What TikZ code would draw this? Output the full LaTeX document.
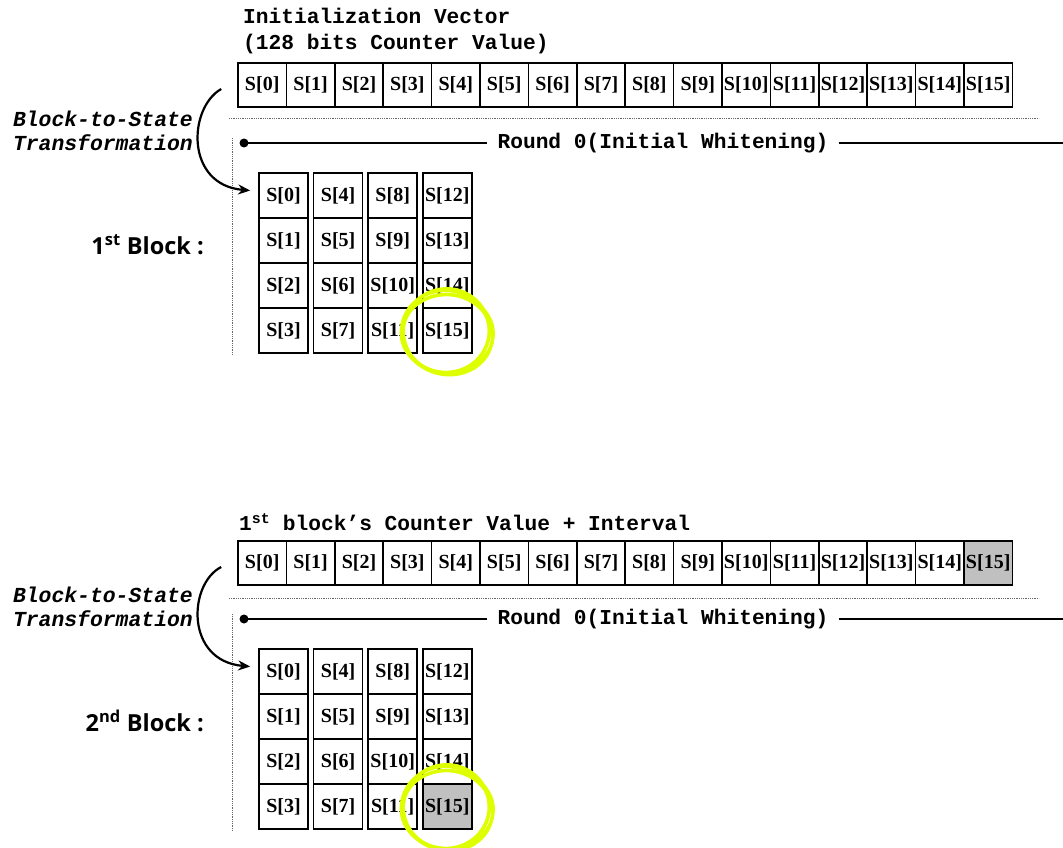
\documentclass[tikz,border=0pt]{standalone}
\usepackage{fontspec}
\usepackage{tikz}
\usetikzlibrary{arrows.meta,calc,positioning}
\newfontfamily\courfont{Liberation Mono}
\newfontfamily\timesfont{Liberation Serif}
\newfontfamily\gothfont{Open Sans}
\definecolor{cellgray}{RGB}{192,192,192}
\definecolor{marker}{RGB}{222,255,0}
\tikzset{
  rowcell/.style={draw,line width=1.6pt,minimum width=48.4pt,minimum height=44pt,inner sep=0pt,
    font=\timesfont\bfseries\fontsize{20}{20}\selectfont},
  gridcell/.style={draw,line width=1.6pt,minimum width=49pt,minimum height=45pt,inner sep=0pt,
    font=\timesfont\bfseries\fontsize{20}{20}\selectfont},
  courlabel/.style={font=\courfont\bfseries\fontsize{21.2}{26}\selectfont,inner sep=0pt},
  slantlabel/.style={font=\courfont\bfseries\itshape\fontsize{21.4}{24}\selectfont,inner sep=0pt},
  blocklabel/.style={font=\gothfont\bfseries\fontsize{23.5}{23.5}\selectfont,inner sep=0pt},
  sepline/.style={densely dotted,line width=.8pt,gray!80!black},
  roundline/.style={line width=2.2pt},
  bendarrow/.style={line width=2.2pt,-{Stealth[length=12pt,width=10pt]}},
  hilite/.style={draw=marker,line width=3.2pt},
}
% one row of 16 cells, #1 name prefix, #2 y, #3 fill of the last cell
\newcommand{\ctrrow}[3]{%
  \foreach \k in {0,...,14}{
    \node[rowcell] (#1\k) at ({238+48.4*(\k+.5)},#2) {S[\k]};}
  \node[rowcell,fill=#3] (#115) at ({238+48.4*15.5},#2) {S[15]};
}
% 4x4 state, column-wise, #1 name prefix, #2 y of first row, #3 fill of S[15]
\newcommand{\stategrid}[3]{%
  \foreach \c in {0,...,3}{
    \foreach \r in {0,...,3}{
      \pgfmathtruncatemacro{\k}{4*\c+\r}
      \ifnum\k<15
        \node[gridcell] (#1\k) at ({283.5+54.6*\c},{#2+45*\r}) {S[\k]};
      \fi}}
  \node[gridcell,fill=#3] (#115) at ({283.5+54.6*3},{#2+135}) {S[15]};
}
\newcommand{\scribble}[1]{%
  \draw[hilite] ($(#1)+(-2,1)$) ellipse [x radius=44pt,y radius=41pt];
  \draw[hilite] ($(#1)+(0,3)$) ellipse [x radius=46pt,y radius=39pt];
  \draw[hilite,rotate around={12:($(#1)+(-1,0)$)}] ($(#1)+(-1,0)$) ellipse [x radius=43pt,y radius=42pt];
  \draw[hilite,rotate around={-10:($(#1)+(1,4)$)}] ($(#1)+(1,4)$) ellipse [x radius=45pt,y radius=40pt];
}

\begin{document}
\begin{tikzpicture}[x=1pt,y=-1pt]
  \useasboundingbox (0,0) rectangle (1063,848);

  % first block
  \node[courlabel,anchor=west,align=left] (iv) at (243,31)
    {Initialization Vector\\(128 bits Counter Value)};
  \ctrrow{a}{85}{white}
  \draw[sepline] (229,118) -- (1039,118);
  \node[courlabel,inner xsep=10pt] (rnda) at (663,143) {Round 0(Initial Whitening)};
  \coordinate (dota) at (244,143);
  \coordinate (enda) at (1063,143);
  \fill (dota) circle (4.5pt);
  \draw[roundline] (dota) -- (rnda.west);
  \draw[roundline] (rnda.east) -- (enda);
  \draw[sepline] (232,138) -- (232,355);
  \node[slantlabel,anchor=east,align=right] (btsa) at (193,131)
    {Block-to-State\\Transformation};
  \stategrid{g}{195.5}{white}
  \node[blocklabel,anchor=east] (blka) at (204,245) {1\textsuperscript{st} Block :};
  \draw[bendarrow] ([xshift=-16pt,yshift=-4pt]a0.west)
    .. controls (188,108) and (185,185) .. ([xshift=-8pt,yshift=5pt]g0.west);
  \scribble{g15}

  % second block
  \begin{scope}[yshift=-476pt]
    \node[courlabel,anchor=west] (cv) at (239,46)
      {1\textsuperscript{st} block\textquoteright s Counter Value + Interval};
    \ctrrow{b}{87}{cellgray}
    \draw[sepline] (229,122) -- (1039,122);
    \node[courlabel,inner xsep=10pt] (rndb) at (663,143) {Round 0(Initial Whitening)};
    \coordinate (dotb) at (244,143);
    \coordinate (endb) at (1063,143);
    \fill (dotb) circle (4.5pt);
    \draw[roundline] (dotb) -- (rndb.west);
    \draw[roundline] (rndb.east) -- (endb);
    \draw[sepline] (232,138) -- (232,355);
    \node[slantlabel,anchor=east,align=right] (btsb) at (193,131)
      {Block-to-State\\Transformation};
    \stategrid{h}{195.5}{cellgray}
    \node[blocklabel,anchor=east] (blkb) at (204,245) {2\textsuperscript{nd} Block :};
    \draw[bendarrow] ([xshift=-16pt,yshift=-4pt]b0.west)
      .. controls (188,108) and (185,185) .. ([xshift=-8pt,yshift=5pt]h0.west);
    \scribble{h15}
  \end{scope}
\end{tikzpicture}
\end{document}
